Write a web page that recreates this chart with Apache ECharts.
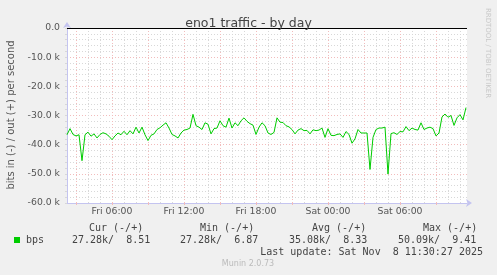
<!DOCTYPE html>
<html><head><meta charset="utf-8">
<script src="https://cdn.jsdelivr.net/npm/echarts@6/dist/echarts.min.js"></script>
<style>html,body{margin:0;padding:0;background:#f0f0f0}#c{width:497px;height:275px}</style>
</head><body><div id="c"></div>
<script>
// ---- chart content ----
const chartTitle = 'eno1 traffic - by day';
const yAxisTitle = 'bits in (-) / out (+) per second';
const watermark = 'RRDTOOL / TOBI OETIKER';
const footer = 'Munin 2.0.73';
const lastUpdate = 'Last update: Sat Nov  8 11:30:27 2025';
const seriesName = 'bps';
// sampling: hours since Fri 00:00
const sampleStartHour = 2.25;      // Fri 02:15
const sampleStepMinutes = 15;
const axisStartHour = 2.25;
const axisEndHour = 35 + 35 / 60;  // Sat 11:35
// inbound traffic, kbit/s (drawn as negative)
const bpsInK = [
  36.6, 34.5, 36.5, 37.0, 36.6, 45.5, 36.6, 35.7, 37.1, 36.3,
  37.7, 36.5, 35.9, 36.3, 37.1, 38.3, 37.0, 36.0, 36.6, 35.4,
  36.6, 35.2, 36.3, 34.0, 36.0, 34.0, 36.6, 38.6, 36.8, 36.3,
  34.8, 34.2, 33.3, 32.5,
  34.3, 36.5, 37.0, 37.7, 36.0, 35.0, 34.8, 34.3, 29.6, 33.5,
  34.0, 34.8, 32.5, 33.0, 36.3, 34.5, 34.3, 31.8, 33.5, 34.0,
  30.9, 34.3, 32.5, 33.5, 31.8, 30.8, 32.0, 32.8, 33.3, 36.5,
  34.0, 32.5, 33.5,
  36.0, 36.5, 35.8, 30.8, 32.3, 32.4, 33.5, 33.9, 34.8, 36.3,
  35.0, 34.5, 35.2, 35.1, 36.3, 34.9, 35.2, 35.0, 34.3, 37.5,
  34.5, 36.8, 36.9, 36.5, 36.3, 37.5, 35.5, 36.5, 39.5, 38.0,
  34.8, 36.0, 36.0, 36.0,
  48.5, 37.5, 34.8, 34.3, 34.3, 34.0, 50.09, 36.2, 35.9, 36.5,
  35.5, 35.6, 33.8, 35.2, 34.3, 34.8, 35.0, 32.5, 34.8, 34.3,
  34.0, 34.5, 37.0, 36.0, 30.5, 29.5, 30.6, 30.0, 33.4, 30.8,
  29.7, 31.5, 27.28
];
const xLabelHours = [6, 12, 18, 24, 30];
const xLabelTexts = ['Fri 06:00', 'Fri 12:00', 'Fri 18:00', 'Sat 00:00', 'Sat 06:00'];
const yMin = -60000, yMax = 0;
const legendHeaders = ['Cur (-/+)', 'Min (-/+)', 'Avg (-/+)', 'Max (-/+)'];
const legendValues = ['27.28k/  8.51', '27.28k/  6.87', '35.08k/  8.33', '50.09k/  9.41'];

// ---- build ----
const data = bpsInK.map((v, i) => [sampleStartHour + i * sampleStepMinutes / 60, -v * 1000]);
const gray = '#d8d8d8', red = '#f2bcbc';
const vGrid = [];
for (let h = Math.ceil(axisStartHour); h < axisEndHour; h++) {
  vGrid.push({ xAxis: h, lineStyle: { color: h % 3 === 0 ? red : gray, type: [1, 2], width: 1 } });
}
const majorTicks = [];
for (let h = 3; h < axisEndHour; h += 3) majorTicks.push(h);

const txt = '#444';
const mono = '"DejaVu Sans Mono", monospace';
const sans = '"DejaVu Sans", sans-serif';
const graphics = [
  { type: 'text', x: 11, y: 115, rotation: Math.PI / 2,
    style: { text: yAxisTitle, font: '10px ' + sans, fill: '#555', align: 'center', verticalAlign: 'middle' } },
  { type: 'text', x: 488, y: 53, rotation: -Math.PI / 2,
    style: { text: watermark, font: '7px ' + sans, fill: '#c8c8c8', align: 'center', verticalAlign: 'middle' } },
  { type: 'rect', shape: { x: 14, y: 237, width: 6, height: 6 }, style: { fill: '#00cc00' } },
  { type: 'text', x: 26, y: 240, style: { text: seriesName, font: '10px ' + mono, fill: txt, verticalAlign: 'middle' } },
  { type: 'text', x: 483, y: 252, style: { text: lastUpdate, font: '10px ' + mono, fill: txt, align: 'right', verticalAlign: 'middle' } },
  { type: 'text', x: 248, y: 264, style: { text: footer, font: '8px ' + sans, fill: '#bbb', align: 'center', verticalAlign: 'middle' } }
];
const headerX = [89, 200, 312, 423];
const valueX = [72, 180, 289, 398];
legendHeaders.forEach((t, i) => graphics.push({ type: 'text', x: headerX[i], y: 228,
  style: { text: t, font: '10px ' + mono, fill: txt, verticalAlign: 'middle' } }));
legendValues.forEach((t, i) => graphics.push({ type: 'text', x: valueX[i], y: 240,
  style: { text: t, font: '10px ' + mono, fill: txt, verticalAlign: 'middle' } }));

const chart = echarts.init(document.getElementById('c'), null, { renderer: 'canvas' });
chart.setOption({
  backgroundColor: '#f0f0f0',
  animation: false,
  title: { text: chartTitle, left: 'center', top: 12,
    textStyle: { fontFamily: sans, fontSize: 12.5, fontWeight: 'normal', color: '#444' } },
  grid: { left: 67, top: 28, width: 400, height: 175, show: true, backgroundColor: '#ffffff', borderWidth: 0 },
  xAxis: {
    type: 'value', min: axisStartHour, max: axisEndHour,
    axisLine: { show: true, onZero: false, lineStyle: { color: '#c4c4f0', width: 1 }, symbol: ['none', 'arrow'], symbolSize: [6, 6], symbolOffset: [0, 5] },
    axisTick: { show: true, customValues: majorTicks, length: 2, lineStyle: { color: red } },
    axisLabel: { customValues: xLabelHours, margin: 4, fontFamily: sans, fontSize: 9.3, color: '#555',
      formatter: v => xLabelTexts[xLabelHours.indexOf(Math.round(v))] || '' },
    splitLine: { show: false }
  },
  yAxis: {
    type: 'value', min: yMin, max: yMax, interval: 2000,
    axisLine: { show: true, lineStyle: { color: '#c4c4f0', width: 1 }, symbol: ['none', 'arrow'], symbolSize: [6, 6], symbolOffset: [0, 6] },
    axisTick: { show: true, length: 2, lineStyle: { color: gray } },
    axisLabel: { margin: 7, fontFamily: sans, fontSize: 9.3, color: '#555',
      formatter: v => (v % 10000 !== 0) ? '' : (v === 0 ? '0.0' : (v / 1000).toFixed(1) + ' k') },
    splitLine: { show: true, lineStyle: { color: [red, gray, gray, gray, gray], type: [1, 2], width: 1 } }
  },
  series: [
    { type: 'line', name: 'grid', data: [], silent: true, z: 1,
      markLine: { silent: true, symbol: 'none', z: 1, animation: false, label: { show: false },
        lineStyle: { width: 1, type: [1, 2] }, data: vGrid } },
    { type: 'line', name: seriesName, data: data, showSymbol: false, z: 3,
      lineStyle: { color: '#00cc00', width: 1 }, itemStyle: { color: '#00cc00' },
      markLine: { silent: true, symbol: 'none', animation: false, label: { show: false },
        data: [{ yAxis: 0, lineStyle: { color: '#000', type: 'solid', width: 1 } }] } }
  ],
  graphic: graphics
});
</script></body></html>
